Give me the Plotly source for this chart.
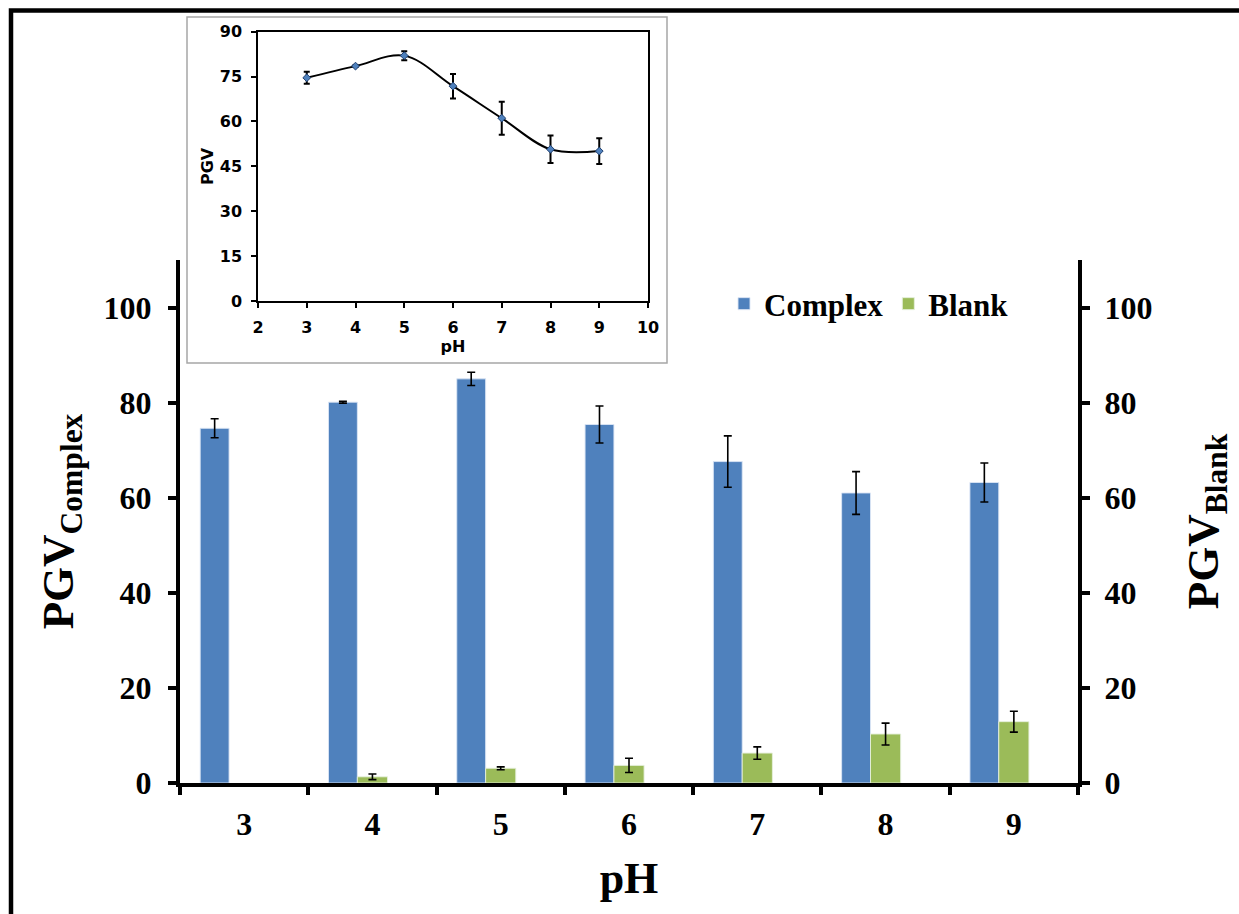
import plotly.graph_objects as go

ph_labels = ["3", "4", "5", "6", "7", "8", "9"]
complex_vals = [74.6, 80.1, 85.0, 75.4, 67.6, 61.0, 63.2]
complex_err = [2.0, 0.2, 1.4, 3.9, 5.4, 4.5, 4.1]
blank_vals = [None, 1.3, 3.1, 3.7, 6.3, 10.3, 12.9]
blank_err = [0, 0.6, 0.3, 1.5, 1.3, 2.3, 2.2]

inset_ph = [3, 4, 5, 6, 7, 8, 9]
inset_pgv = [74.6, 78.5, 82.0, 71.8, 61.1, 50.7, 50.1]
inset_err = [2.0, 0.3, 1.5, 4.1, 5.5, 4.6, 4.3]

W, H = 1239, 914
def px(x): return x / W
def py(y): return 1 - y / H

SERIF = "Liberation Serif"
SANS = "DejaVu Sans"

fig = go.Figure()
fig.add_trace(go.Bar(
    x=ph_labels, y=complex_vals, name="Complex",
    marker=dict(color="#4F81BD", line=dict(color="rgba(220,230,245,0.9)", width=1)),
    width=0.225, offset=-0.3425,
    error_y=dict(type="data", array=complex_err, color="black", thickness=1.6, width=4),
    xaxis="x", yaxis="y",
))
fig.add_trace(go.Bar(
    x=ph_labels, y=blank_vals, name="Blank",
    marker=dict(color="#9BBB59", line=dict(color="rgba(230,240,220,0.9)", width=1)),
    width=0.235, offset=-0.1175,
    error_y=dict(type="data", array=blank_err, color="black", thickness=1.6, width=4),
    xaxis="x", yaxis="y2",
))
fig.add_trace(go.Scatter(
    x=inset_ph, y=inset_pgv, mode="lines+markers", showlegend=False,
    line=dict(color="black", width=2, shape="spline", smoothing=1.0),
    marker=dict(symbol="diamond", size=6, color="#4F81BD", line=dict(color="#1F3F6F", width=1)),
    error_y=dict(type="data", array=inset_err, color="black", thickness=2, width=3),
    xaxis="x3", yaxis="y3",
))

tickfont = dict(family=SERIF, size=32, color="black", weight="bold")
axis_common = dict(showline=True, linecolor="black", linewidth=4, ticks="outside",
                   ticklen=8, tickwidth=4, tickcolor="black", showgrid=False,
                   zeroline=False, tickfont=tickfont, automargin=False)
inset_font = dict(family=SANS, size=16, color="black", weight="bold")
inset_common = dict(showline=True, linecolor="black", linewidth=1.5, mirror=True,
                    ticks="outside", ticklen=5, tickwidth=1.5, tickcolor="black",
                    showgrid=False, zeroline=False, automargin=False, tickfont=inset_font)

fig.update_layout(
    template="none",
    width=W, height=H, autosize=False,
    margin=dict(l=0, r=0, t=0, b=0),
    paper_bgcolor="white", plot_bgcolor="rgba(0,0,0,0)",
    barmode="overlay",
    xaxis=dict(domain=[px(180), px(1078)], anchor="y", type="category",
               range=[-0.5, 6.5], tickson="boundaries", ticklabelstandoff=10,
               title=dict(text="pH", font=dict(family=SERIF, size=44, color="black", weight="bold"), standoff=22),
               **axis_common),
    yaxis=dict(domain=[py(783), py(260)], anchor="x", range=[0, 110],
               tickvals=[0, 20, 40, 60, 80, 100], ticklabelstandoff=10,
               title=dict(text="PGV<sub>Complex</sub>", font=dict(family=SERIF, size=45, color="black", weight="bold"), standoff=17),
               **axis_common),
    yaxis2=dict(anchor="x", overlaying="y", side="right", range=[0, 110],
                tickvals=[0, 20, 40, 60, 80, 100], ticklabelstandoff=8,
                title=dict(text="PGV<sub>Blank</sub>", font=dict(family=SERIF, size=45, color="black", weight="bold"), standoff=36),
                **axis_common),
    xaxis3=dict(domain=[px(258), px(648)], anchor="y3", range=[2, 10], dtick=1,
                ticklabelstandoff=6,
                title=dict(text="pH", font=inset_font, standoff=4),
                **inset_common),
    yaxis3=dict(domain=[py(301), py(31.7)], anchor="x3", range=[0, 90], dtick=15,
                ticklabelstandoff=6,
                title=dict(text="PGV", font=inset_font, standoff=2),
                **inset_common),
    legend=dict(orientation="h", x=px(724), y=py(277), xanchor="left", yanchor="top",
                font=dict(family=SERIF, size=31, color="black", weight="bold"),
                bgcolor="rgba(0,0,0,0)", itemwidth=30, traceorder="normal"),
    shapes=[
        dict(type="rect", xref="paper", yref="paper", x0=px(187), x1=px(667),
             y0=py(363), y1=py(17), line=dict(color="#A6A6A6", width=1.5),
             fillcolor="white", layer="below"),
        dict(type="path", xref="paper", yref="paper",
             path=f"M {px(11)},{py(930)} L {px(11)},{py(10.5)} L {px(1260)},{py(10.5)}",
             line=dict(color="black", width=4.5)),
    ],
)

fig.write_html(
    "out.html",
    config={"displayModeBar": False},
    post_script="document.body.style.margin='0';document.body.style.overflow='hidden';",
)
